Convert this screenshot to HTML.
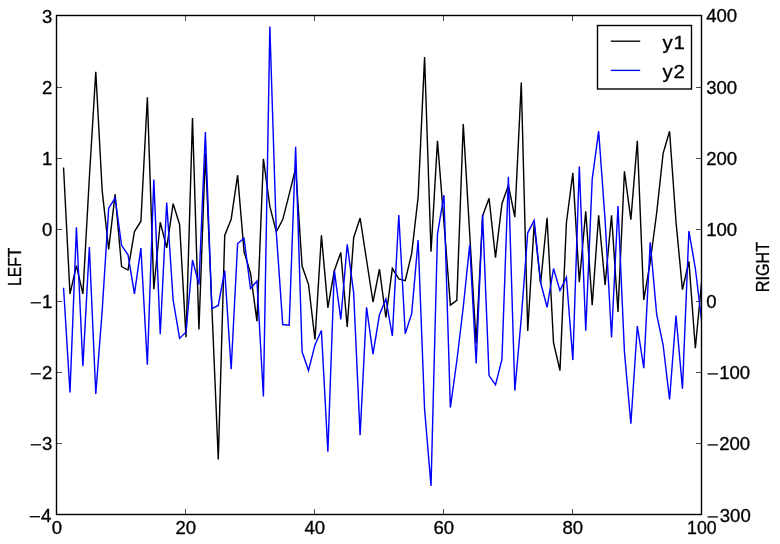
<!DOCTYPE html>
<html><head><meta charset="utf-8"><title>plot</title>
<style>
html,body{margin:0;padding:0;background:#fff;}
body{width:780px;height:544px;overflow:hidden;}
svg{display:block;will-change:transform;}
text{font-family:"Liberation Sans",sans-serif;font-size:17.7px;fill:#000;stroke:#000;stroke-width:0.3px;}
.tk line{stroke:#000;stroke-width:0.7;}
.mn{stroke:#000;stroke-width:1.3;}
</style></head><body>
<svg width="780" height="544" viewBox="0 0 780 544">
<rect x="0" y="0" width="780" height="544" fill="#fff"/>
<defs><clipPath id="c"><rect x="56.5" y="15.5" width="645" height="499"/></clipPath></defs>
<g clip-path="url(#c)">
<path d="M63.55,167.50 L69.99,293.90 L76.44,265.70 L82.89,293.90 L89.34,178.00 L95.78,71.80 L102.23,191.20 L108.68,249.30 L115.12,194.20 L121.57,266.50 L128.02,270.00 L134.46,231.50 L140.91,221.20 L147.36,97.20 L153.81,289.20 L160.25,222.20 L166.70,247.80 L173.15,203.60 L179.59,224.50 L186.04,337.20 L192.49,118.10 L198.93,329.40 L205.38,153.00 L211.83,306.00 L218.28,459.40 L224.72,235.40 L231.17,219.20 L237.62,175.20 L244.06,251.80 L250.51,273.10 L256.96,321.30 L263.40,158.80 L269.85,206.40 L276.30,231.80 L282.75,219.60 L289.19,194.40 L295.64,168.20 L302.09,266.10 L308.53,284.60 L314.98,339.50 L321.43,235.40 L327.87,307.80 L334.32,270.70 L340.77,252.50 L347.22,327.00 L353.66,237.70 L360.11,218.00 L366.56,260.00 L373.00,302.00 L379.45,269.10 L385.90,317.50 L392.34,268.40 L398.79,278.90 L405.24,280.70 L411.69,253.40 L418.13,197.20 L424.58,57.10 L431.03,251.80 L437.47,140.90 L443.92,222.00 L450.37,305.10 L456.81,300.30 L463.26,124.10 L469.71,234.00 L476.16,343.50 L482.60,216.00 L489.05,198.30 L495.50,257.60 L501.94,203.70 L508.39,185.50 L514.84,217.00 L521.28,82.60 L527.73,331.00 L534.18,224.00 L540.62,283.30 L547.07,217.70 L553.52,342.70 L559.97,370.50 L566.41,222.70 L572.86,172.90 L579.31,282.20 L585.75,211.30 L592.20,305.10 L598.65,215.30 L605.10,285.00 L611.54,215.30 L617.99,312.00 L624.44,171.30 L630.88,219.60 L637.33,140.70 L643.78,300.00 L650.22,262.00 L656.67,213.00 L663.12,153.40 L669.57,131.20 L676.01,222.00 L682.46,289.60 L688.91,261.30 L695.35,348.30 L701.80,280.00" fill="none" stroke="#000" stroke-width="1.42" stroke-linejoin="miter" stroke-miterlimit="4"/>
<path d="M63.55,287.70 L69.99,392.50 L76.44,227.40 L82.89,366.30 L89.34,247.10 L95.78,393.90 L102.23,310.00 L108.68,208.20 L115.12,198.00 L121.57,245.30 L128.02,254.80 L134.46,293.90 L140.91,248.10 L147.36,364.70 L153.81,179.50 L160.25,334.20 L166.70,202.50 L173.15,300.20 L179.59,338.40 L186.04,332.00 L192.49,260.00 L198.93,284.40 L205.38,132.00 L211.83,308.60 L218.28,305.50 L224.72,270.60 L231.17,369.30 L237.62,243.50 L244.06,238.40 L250.51,288.60 L256.96,281.00 L263.40,396.40 L269.85,26.60 L276.30,232.50 L282.75,324.50 L289.19,325.20 L295.64,146.70 L302.09,351.80 L308.53,370.50 L314.98,344.90 L321.43,330.50 L327.87,451.60 L334.32,270.30 L340.77,319.40 L347.22,244.40 L353.66,292.80 L360.11,435.10 L366.56,307.30 L373.00,354.20 L379.45,314.80 L385.90,299.00 L392.34,336.00 L398.79,215.00 L405.24,333.80 L411.69,313.60 L418.13,240.00 L424.58,409.20 L431.03,485.90 L437.47,234.10 L443.92,195.20 L450.37,407.60 L456.81,361.00 L463.26,307.00 L469.71,244.80 L476.16,363.40 L482.60,214.50 L489.05,375.60 L495.50,384.90 L501.94,359.40 L508.39,176.80 L514.84,390.60 L521.28,318.00 L527.73,232.80 L534.18,220.40 L540.62,282.50 L547.07,307.30 L553.52,268.50 L559.97,290.60 L566.41,277.40 L572.86,360.10 L579.31,166.60 L585.75,330.80 L592.20,179.40 L598.65,131.20 L605.10,220.00 L611.54,337.50 L617.99,206.00 L624.44,352.00 L630.88,423.80 L637.33,326.00 L643.78,368.20 L650.22,242.20 L656.67,314.30 L663.12,345.00 L669.57,399.50 L676.01,315.50 L682.46,388.60 L688.91,231.00 L695.35,268.50 L701.80,322.00" fill="none" stroke="#00f" stroke-width="1.42" stroke-linejoin="miter" stroke-miterlimit="4"/>
</g>
<rect x="56.5" y="15.5" width="645" height="499" fill="none" stroke="#000" stroke-width="1.4"/>
<g class="tk">
<line x1="56.50" y1="514.50" x2="56.50" y2="509.00"/>
<line x1="56.50" y1="15.50" x2="56.50" y2="21.00"/>
<line x1="185.50" y1="514.50" x2="185.50" y2="509.00"/>
<line x1="185.50" y1="15.50" x2="185.50" y2="21.00"/>
<line x1="314.50" y1="514.50" x2="314.50" y2="509.00"/>
<line x1="314.50" y1="15.50" x2="314.50" y2="21.00"/>
<line x1="443.50" y1="514.50" x2="443.50" y2="509.00"/>
<line x1="443.50" y1="15.50" x2="443.50" y2="21.00"/>
<line x1="572.50" y1="514.50" x2="572.50" y2="509.00"/>
<line x1="572.50" y1="15.50" x2="572.50" y2="21.00"/>
<line x1="701.50" y1="514.50" x2="701.50" y2="509.00"/>
<line x1="701.50" y1="15.50" x2="701.50" y2="21.00"/>
<line x1="56.50" y1="15.50" x2="62.00" y2="15.50"/>
<line x1="701.50" y1="15.50" x2="696.00" y2="15.50"/>
<line x1="56.50" y1="87.50" x2="62.00" y2="87.50"/>
<line x1="701.50" y1="87.50" x2="696.00" y2="87.50"/>
<line x1="56.50" y1="158.50" x2="62.00" y2="158.50"/>
<line x1="701.50" y1="158.50" x2="696.00" y2="158.50"/>
<line x1="56.50" y1="229.50" x2="62.00" y2="229.50"/>
<line x1="701.50" y1="229.50" x2="696.00" y2="229.50"/>
<line x1="56.50" y1="301.50" x2="62.00" y2="301.50"/>
<line x1="701.50" y1="301.50" x2="696.00" y2="301.50"/>
<line x1="56.50" y1="372.50" x2="62.00" y2="372.50"/>
<line x1="701.50" y1="372.50" x2="696.00" y2="372.50"/>
<line x1="56.50" y1="443.50" x2="62.00" y2="443.50"/>
<line x1="701.50" y1="443.50" x2="696.00" y2="443.50"/>
<line x1="56.50" y1="514.50" x2="62.00" y2="514.50"/>
<line x1="701.50" y1="514.50" x2="696.00" y2="514.50"/>
</g>
<g>
<text transform="translate(56.80,533.80) scale(1.050,1)" text-anchor="middle">0</text>
<text transform="translate(185.80,533.80) scale(1.050,1)" text-anchor="middle">20</text>
<text transform="translate(314.80,533.80) scale(1.050,1)" text-anchor="middle">40</text>
<text transform="translate(443.80,533.80) scale(1.050,1)" text-anchor="middle">60</text>
<text transform="translate(572.80,533.80) scale(1.050,1)" text-anchor="middle">80</text>
<text transform="translate(701.80,533.80) scale(1.0,1)" text-anchor="middle">100</text>
<text transform="translate(52.30,23.00) scale(1.050,1)" text-anchor="end">3</text>
<text transform="translate(52.30,94.10) scale(1.050,1)" text-anchor="end">2</text>
<text transform="translate(52.30,165.10) scale(1.050,1)" text-anchor="end">1</text>
<text transform="translate(52.30,236.10) scale(1.050,1)" text-anchor="end">0</text>
<text transform="translate(52.30,308.10) scale(1.050,1)" text-anchor="end">1</text>
<line class="mn" x1="30.70" y1="302.80" x2="41.00" y2="302.80"/>
<text transform="translate(52.30,379.10) scale(1.050,1)" text-anchor="end">2</text>
<line class="mn" x1="30.70" y1="373.80" x2="41.00" y2="373.80"/>
<text transform="translate(52.30,450.10) scale(1.050,1)" text-anchor="end">3</text>
<line class="mn" x1="30.70" y1="444.80" x2="41.00" y2="444.80"/>
<text transform="translate(51.30,522.00) scale(1.050,1)" text-anchor="end">4</text>
<line class="mn" x1="29.70" y1="516.70" x2="40.00" y2="516.70"/>
<text transform="translate(706.20,21.60) scale(1.050,1)" text-anchor="start">400</text>
<text transform="translate(706.20,93.60) scale(1.050,1)" text-anchor="start">300</text>
<text transform="translate(706.20,164.60) scale(1.050,1)" text-anchor="start">200</text>
<text transform="translate(706.20,235.60) scale(1.050,1)" text-anchor="start">100</text>
<text transform="translate(706.20,307.60) scale(1.050,1)" text-anchor="start">0</text>
<line class="mn" x1="707.6" y1="373.90" x2="717.9" y2="373.90"/>
<text transform="translate(719.20,378.60) scale(1.050,1)" text-anchor="start">100</text>
<line class="mn" x1="707.6" y1="444.90" x2="717.9" y2="444.90"/>
<text transform="translate(719.20,449.60) scale(1.050,1)" text-anchor="start">200</text>
<line class="mn" x1="707.6" y1="516.90" x2="717.9" y2="516.90"/>
<text transform="translate(719.80,522.10) scale(1.050,1)" text-anchor="start">300</text>
</g>
<text transform="translate(21,266.8) rotate(-90) scale(0.885,1)" text-anchor="middle">LEFT</text>
<text transform="translate(769.3,267.1) rotate(-90) scale(0.915,1)" text-anchor="middle">RIGHT</text>
<rect x="597.5" y="25.5" width="94" height="63.5" fill="#fff" stroke="#000" stroke-width="1.4"/>
<line x1="610.8" y1="41.2" x2="640.2" y2="41.2" stroke="#000" stroke-width="1.35"/>
<line x1="610.8" y1="70.4" x2="640.2" y2="70.4" stroke="#00f" stroke-width="1.35"/>
<text transform="translate(662.60,48.70) scale(1.15,1)" text-anchor="start" style="letter-spacing:0.7px">y1</text>
<text transform="translate(662.60,77.80) scale(1.15,1)" text-anchor="start" style="letter-spacing:0.7px">y2</text>
</svg>
</body></html>
